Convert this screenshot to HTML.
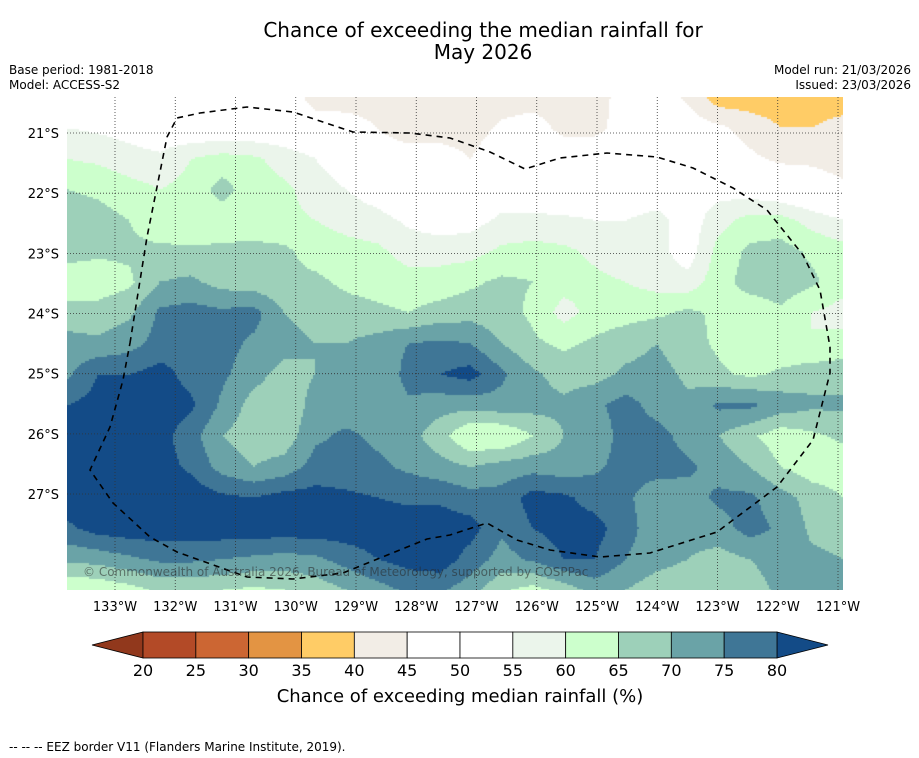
<!DOCTYPE html>
<html><head><meta charset="utf-8"><style>
body{margin:0;background:#fff;width:919px;height:758px;overflow:hidden;position:relative;font-family:"DejaVu Sans","Liberation Sans",sans-serif;}
.t{position:absolute;white-space:nowrap;color:#000;}
</style></head><body>
<div class="t" style="left:0;width:966px;top:19px;text-align:center;font-size:20px;line-height:22px;">Chance of exceeding the median rainfall for<br>May 2026</div>
<div class="t" style="left:9px;top:63px;font-size:12px;line-height:15px;">Base period: 1981-2018<br>Model: ACCESS-S2</div>
<div class="t" style="right:8px;top:63px;font-size:12px;line-height:15px;text-align:right;">Model run: 21/03/2026<br>Issued: 23/03/2026</div>
<canvas id="map" width="776" height="493" style="position:absolute;left:67px;top:97px;"></canvas>
<svg id="ov" width="919" height="758" style="position:absolute;left:0;top:0"></svg>
<div class="t" style="left:83px;top:565px;font-size:12px;color:rgba(40,40,40,0.55);">© Commonwealth of Australia 2026, Bureau of Meteorology, supported by COSPPac</div>
<div class="t" style="left:0;width:920px;top:686px;text-align:center;font-size:18px;">Chance of exceeding median rainfall (%)</div>
<div class="t" style="left:9px;top:740px;font-size:12px;">--  --  -- EEZ border V11 (Flanders Marine Institute, 2019).</div>
<script>
const lonTicks=[133,132,131,130,129,128,127,126,125,124,123,122,121];
const latTicks=[21,22,23,24,25,26,27];
const levels=[20,25,30,35,40,45,50,55,60,65,70,75,80];
const bandColors=['#91381c','#b34a27','#cc6633','#e39443','#ffcc66','#f2ede6','#ffffff','#ffffff','#ebf5eb','#ccffcc','#9dd0b9','#6aa3a7','#3f7696','#134b87'];
const r0=[50,50,50,50,50,50,50,50,42,42,42,42,42,42,42,42,42,42,48,48,44,37,37,37,37,37];
const r1=[55,54,53,51,50,50,50,50,49,48,45,42,42,42,46,48,43,43,48,48,48,46,43,40,40,42];
const r2=[60,59,57,56,60,62,61,58,55,51,48,48,48,45,50,50,50,50,50,50,52,48,46,44,44,43];
const r3=[65,64,62,60,62,67,62,61,58,55,52,48,48,50,52,52,50,50,50,51,53,53,52,50,48,46];
const r4=[68,67,65,62,61,62,61,61,60,58,57,54,52,53,56,56,56,55,55,57,52,58,62,62,58,55];
const r5=[67,66,66,66,66,66,67,66,63,62,61,58,58,58,61,62,61,59,57,57,52,62,66,67,64,62];
const r6=[62,62,64,70,71,68,67,66,66,64,63,62,62,64,66,65,62,61,60,58,57,63,67,68,66,62];
const r7=[67,67,69,76,77,76,77,70,68,67,66,65,67,68,67,64,58,62,63,64,66,64,62,64,60,58];
const r8=[72,71,73,77,78,77,74,72,70,70,72,75,76,75,70,66,64,66,68,70,67,64,61,61,60,62];
const r9=[74,80,80,82,78,76,72,68,70,71,70,77,80,82,76,71,68,68,71,72,69,66,64,66,68,68];
const r10=[80,82,83,83,81,74,68,66,72,72,72,74,72,72,73,72,71,74,77,73,71,76,76,73,71,71];
const r11=[83,83,83,82,77,70,67,67,74,76,74,72,67,60,60,65,70,72,77,77,73,70,66,62,64,66];
const r12=[83,83,83,82,79,73,70,72,77,77,76,74,72,70,72,73,72,74,77,77,76,73,70,65,62,62];
const r13=[83,83,83,83,83,81,80,82,82,81,80,79,79,77,77,82,81,78,76,72,73,76,76,72,68,65];
const r14=[79,82,83,83,83,83,83,83,83,83,83,83,83,82,76,80,82,82,77,72,72,73,77,74,69,68];
const r15=[71,72,74,76,76,75,74,73,74,77,80,82,83,78,73,76,80,80,75,72,70,68,70,72,71,70];
const r16=[60,61,63,66,66,65,64,65,67,70,73,76,76,72,66,63,67,72,70,67,66,66,68,71,71,70];
const grid=[r0,r1,r2,r3,r4,r5,r6,r7,r8,r9,r10,r11,r12,r13,r14,r15,r16];

const X0=67,Y0=97,W=776,H=493;
const FF='DejaVu Sans, Liberation Sans, sans-serif';
function xLon(l){return 115+(133-l)*60.25;}
function yLat(l){return 133+(l-21)*60.17;}
function colorFor(v){let i=0;while(i<levels.length&&v>=levels[i])i++;return bandColors[i];}
const nx=grid[0].length-1, ny=grid.length-1;
function val(px,py){const gx=px/W*nx, gy=py/H*ny;let i=Math.min(Math.floor(gx),nx-1), j=Math.min(Math.floor(gy),ny-1);const fx=gx-i, fy=gy-j;
 return grid[j][i]*(1-fx)*(1-fy)+grid[j][i+1]*fx*(1-fy)+grid[j+1][i]*(1-fx)*fy+grid[j+1][i+1]*fx*fy;}
const ctx=document.getElementById('map').getContext('2d');
const S=2;
for(let py=0;py<H;py+=S){for(let px=0;px<W;px+=S){ctx.fillStyle=colorFor(val(px+S/2,py+S/2));ctx.fillRect(px,py,S,S);}}

const NS='http://www.w3.org/2000/svg';
const svg=document.getElementById('ov');
function mk(t,a,p){const e=document.createElementNS(NS,t);for(const k in a)e.setAttribute(k,a[k]);(p||svg).appendChild(e);return e;}
const gl=mk('g',{});


lonTicks.forEach(l=>{const x=xLon(l);mk('line',{x1:x,x2:x,y1:Y0,y2:Y0+H,stroke:'#333','stroke-width':0.8,'stroke-dasharray':'1,2'},gl);
 const t=mk('text',{x:x,y:611,'text-anchor':'middle','font-size':13,'font-family':FF});t.textContent=l+'°W';
 
 });
latTicks.forEach(l=>{const y=yLat(l);mk('line',{x1:X0,x2:X0+W,y1:y,y2:y,stroke:'#333','stroke-width':0.8,'stroke-dasharray':'1,2'},gl);
 const t=mk('text',{x:59,y:y+5,'text-anchor':'end','font-size':13,'font-family':FF});t.textContent=l+'°S';
 
 });
const eez=[[130,343],[147,237],[167,137],[177,118],[200,113],[247,107],[293,112],[353,132],[410,133],[450,138],[490,152],[525,169],[560,158],[607,153],[657,157],[693,168],[733,188],[767,210],[803,255],[820,290],[830,347],[830,373],[813,440],[777,487],[717,532],[650,553],[600,557],[550,550],[517,540],[487,523],[450,535],[427,539],[343,573],[293,579],[247,577],[177,552],[150,537],[113,503],[90,470],[110,427],[123,380],[130,343]];
const ep=mk('polyline',{points:eez.map(p=>p.join(',')).join(' '),fill:'none',stroke:'#000','stroke-width':1.6,'stroke-dasharray':'6,5'});


const cb=mk('g',{});


const cx0=143,cx1=777,cy0=632,cy1=658,seg=(cx1-cx0)/(levels.length-1);
mk('polygon',{points:`${cx0},${cy0} ${cx0},${cy1} 92,645`,fill:bandColors[0],stroke:'#000','stroke-width':0.8},cb);
mk('polygon',{points:`${cx1},${cy0} ${cx1},${cy1} 828,645`,fill:bandColors[bandColors.length-1],stroke:'#000','stroke-width':0.8},cb);
for(let i=0;i<levels.length-1;i++){const r=mk('rect',{x:cx0+i*seg,y:cy0,width:seg,height:cy1-cy0,fill:bandColors[i+1],stroke:'#000','stroke-width':0.8},cb);
 
 }
levels.forEach((v,i)=>{const t=mk('text',{x:cx0+i*seg,y:676,'text-anchor':'middle','font-size':16,'font-family':FF},cb);t.textContent=v;
 
 });
</script>
</body></html>
